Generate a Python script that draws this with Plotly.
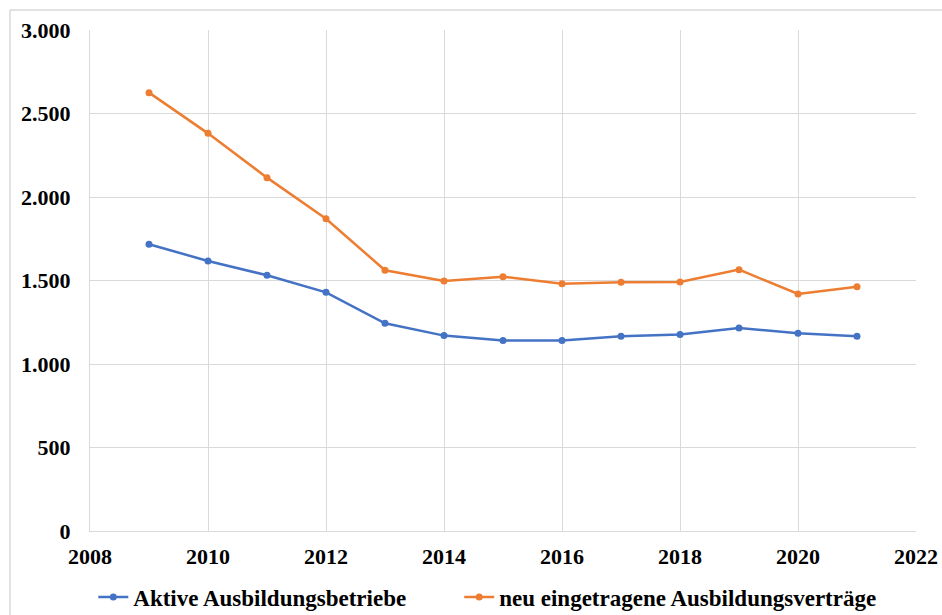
import plotly.graph_objects as go

# Jahre und Werte
years = [2009, 2010, 2011, 2012, 2013, 2014, 2015, 2016, 2017, 2018, 2019, 2020, 2021]
betriebe = [1717, 1617, 1531, 1429, 1244, 1170, 1140, 1141, 1166, 1176, 1216, 1184, 1166]
vertraege = [2625, 2381, 2116, 1870, 1561, 1497, 1523, 1481, 1489, 1491, 1565, 1419, 1463]

y_tickvals = [0, 500, 1000, 1500, 2000, 2500, 3000]
y_ticktext = ["0", "500", "1.000", "1.500", "2.000", "2.500", "3.000"]

font_family = "Liberation Serif"
grid_color = "#d9d9d9"
tick_font = dict(family=font_family, size=22, color="black", weight="bold")
legend_font = dict(family=font_family, size=23, color="black", weight="bold")

fig = go.Figure()
fig.add_trace(go.Scatter(
    x=years, y=betriebe, mode="lines+markers",
    name="Aktive Ausbildungsbetriebe",
    line=dict(color="#4472C4", width=2.5),
    marker=dict(color="#4472C4", size=7),
    legend="legend",
))
fig.add_trace(go.Scatter(
    x=years, y=vertraege, mode="lines+markers",
    name="neu eingetragene Ausbildungsverträge",
    line=dict(color="#ED7D31", width=2.5),
    marker=dict(color="#ED7D31", size=7),
    legend="legend2",
))

legend_common = dict(
    orientation="h", xanchor="left", y=-0.132, yanchor="middle",
    font=legend_font, itemwidth=30, bgcolor="rgba(0,0,0,0)",
)

fig.update_layout(
    width=942, height=615,
    margin=dict(l=90, r=26, t=30, b=84, autoexpand=False),
    paper_bgcolor="white", plot_bgcolor="white",
    font=dict(family=font_family, size=22, color="black", weight="bold"),
    showlegend=True,
    legend=dict(x=0.004, **legend_common),
    legend2=dict(x=0.447, **legend_common),
    xaxis=dict(
        range=[2008, 2022], dtick=2, tick0=2008,
        showgrid=True, gridcolor=grid_color, gridwidth=1,
        showline=True, linecolor=grid_color, linewidth=1,
        zeroline=False, ticks="", ticklabelstandoff=6, automargin=False,
        tickfont=tick_font,
    ),
    yaxis=dict(
        range=[0, 3000], tickvals=y_tickvals, ticktext=y_ticktext,
        showgrid=True, gridcolor=grid_color, gridwidth=1,
        showline=True, linecolor=grid_color, linewidth=1,
        zeroline=False, ticks="", ticklabelstandoff=14, automargin=False,
        tickfont=tick_font,
    ),
    shapes=[
        # Rahmen der Diagrammfläche (links und oben)
        dict(type="line", xref="paper", yref="paper",
             x0=-0.0969, x1=-0.0969, y0=1.04, y1=-0.2,
             line=dict(color="#d9d9d9", width=1.5)),
        dict(type="line", xref="paper", yref="paper",
             x0=-0.0969, x1=1.04, y0=1.04, y1=1.04,
             line=dict(color="#d9d9d9", width=1.5)),
    ],
)

fig.write_html("out.html")
